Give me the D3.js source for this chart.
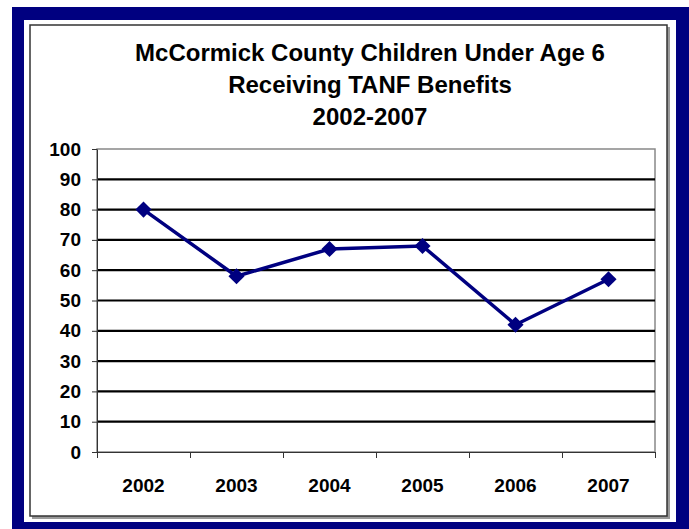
<!DOCTYPE html>
<meta charset="utf-8">
<script src="https://d3js.org/d3.v7.min.js"></script>
<style>
  body { margin: 0; background: #fff; }
  svg text { font-family: "Liberation Sans", Arial, sans-serif; font-weight: bold; fill: #000; }
</style>
<div id="chart"></div>
<script>
// chart data
var years = ["2002", "2003", "2004", "2005", "2006", "2007"]
var children = [80, 58, 67, 68, 42, 57]
var yTicks = [0, 10, 20, 30, 40, 50, 60, 70, 80, 90, 100]
var titleLines = ["McCormick County Children Under Age 6", "Receiving TANF Benefits", "2002-2007"]

var width = 689, height = 529
var plot = {left: 97, right: 655, top: 149, bottom: 452}

var svg = d3.select("#chart").append("svg")
  .attr("width", width)
  .attr("height", height)

// navy frame + white card + dark border with a soft shadow
svg.append("rect").attr("x", 12).attr("y", 7).attr("width", width - 12).attr("height", height - 7).attr("fill", "#000080")
svg.append("rect").attr("x", 24).attr("y", 20).attr("width", 652).attr("height", 502).attr("fill", "#fff")
svg.append("rect").attr("x", 32).attr("y", 27).attr("width", 638).attr("height", 492).attr("fill", "#999")
svg.append("rect").attr("x", 30).attr("y", 25).attr("width", 637).attr("height", 491).attr("fill", "#fff")
  .attr("stroke", "#333").attr("stroke-width", 1.5)

// title
svg.append("g").selectAll("text")
  .data(titleLines)
  .enter().append("text")
  .attr("x", 370)
  .attr("y", function(d, i) { return 61 + i * 32 })
  .attr("text-anchor", "middle")
  .style("font-size", "24px")
  .text(function(d) { return d })

// scales
var x = d3.scaleBand().domain(years).range([plot.left, plot.right])
var xEdge = d3.scaleLinear().domain([0, years.length]).range([plot.left, plot.right])
var y = d3.scaleLinear().domain([0, 100]).range([plot.bottom, plot.top])

// plot border (grey top/right)
svg.append("rect")
  .attr("x", plot.left).attr("y", plot.top)
  .attr("width", plot.right - plot.left).attr("height", plot.bottom - plot.top)
  .attr("fill", "none").attr("stroke", "#888").attr("stroke-width", 1.5)

// gridlines
svg.append("g").selectAll("line")
  .data(yTicks.filter(function(d) { return d > 0 && d < 100 }))
  .enter().append("line")
  .attr("x1", plot.left).attr("x2", plot.right)
  .attr("y1", function(d) { return y(d) }).attr("y2", function(d) { return y(d) })
  .attr("stroke", "#000").attr("stroke-width", 2.2)

// y axis
var yAxis = svg.append("g")
  .attr("transform", "translate(" + plot.left + ",0)")
  .call(d3.axisLeft(y).tickValues(yTicks).tickSizeInner(5).tickSizeOuter(0).tickPadding(11))
yAxis.selectAll("text").style("font-size", "19px")
yAxis.selectAll("line, path").attr("stroke", "#333")

// x axis ticks at category edges
var xTickAxis = svg.append("g")
  .attr("transform", "translate(0," + plot.bottom + ")")
  .call(d3.axisBottom(xEdge).tickValues(d3.range(years.length + 1)).tickSize(6).tickFormat(""))
xTickAxis.selectAll("line, path").attr("stroke", "#333")

// x labels
var xAxis = svg.append("g")
  .attr("transform", "translate(0," + plot.bottom + ")")
  .call(d3.axisBottom(x).tickSize(0).tickPadding(27))
xAxis.select(".domain").remove()
xAxis.selectAll("text").style("font-size", "19px")

// line
var pts = years.map(function(d, i) { return {year: d, value: children[i]} })
svg.append("path")
  .datum(pts)
  .attr("fill", "none")
  .attr("stroke", "#000080")
  .attr("stroke-width", 3.5)
  .attr("d", d3.line()
    .x(function(d) { return x(d.year) + x.bandwidth() / 2 })
    .y(function(d) { return y(d.value) }))

// diamond markers
svg.append("g").selectAll("path")
  .data(pts)
  .enter().append("path")
  .attr("d", d3.symbol().type(d3.symbolSquare).size(130))
  .attr("transform", function(d) {
    return "translate(" + (x(d.year) + x.bandwidth() / 2) + "," + y(d.value) + ") rotate(45)"
  })
  .attr("fill", "#000080")
</script>
